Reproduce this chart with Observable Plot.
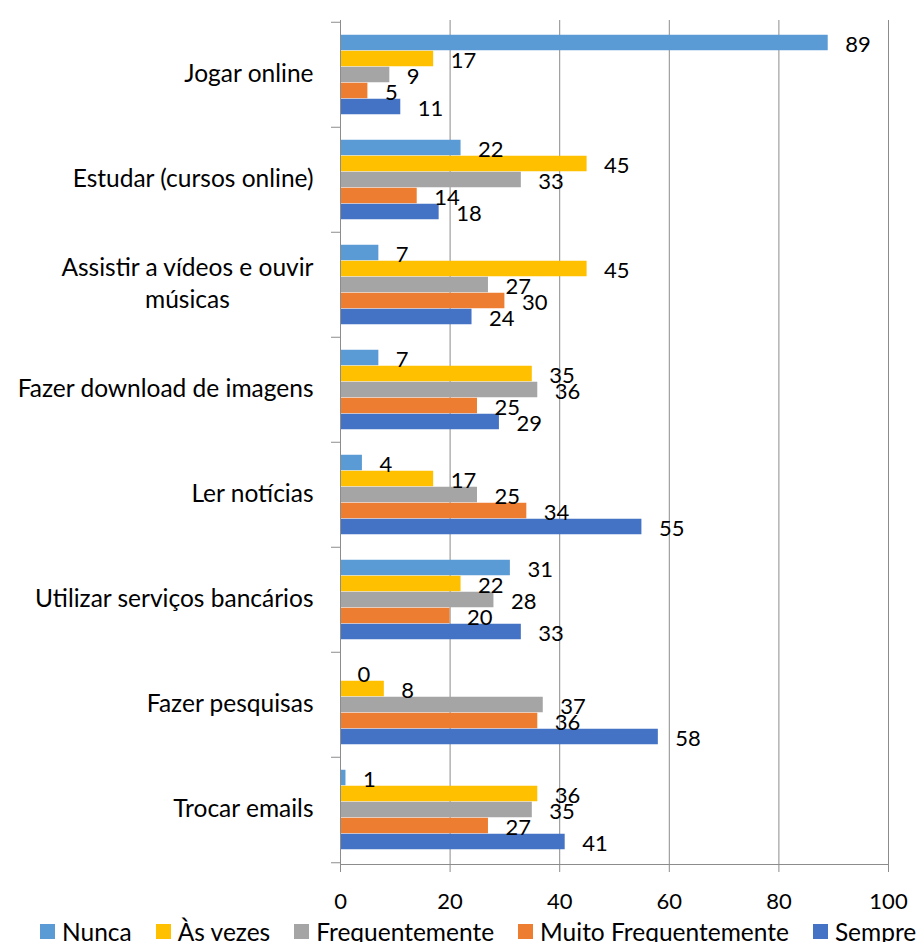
<!DOCTYPE html>
<html>
<head>
<meta charset="utf-8">
<script src="https://cdn.jsdelivr.net/npm/d3@7"></script>
<script src="https://cdn.jsdelivr.net/npm/@observablehq/plot@0.6"></script>
<style>
  html, body { margin: 0; padding: 0; background: #fff; overflow: hidden; }
  body { font-family: Lato, "Open Sans", sans-serif; width: 922px; }
  #legend { display: flex; align-items: center; height: 39px; padding-left: 40px; gap: 24px; white-space: nowrap; font-size: 24.5px; color: #000; }
  #legend .item { display: flex; align-items: center; }
  #legend .sw { width: 15px; height: 15px; margin-right: 7px; flex: none; }
</style>
</head>
<body>
<div id="chart"></div>
<div id="legend"></div>
<script>
const categories = [
  "Jogar online",
  "Estudar (cursos online)",
  "Assistir a vídeos e ouvir\nmúsicas",
  "Fazer download de imagens",
  "Ler notícias",
  "Utilizar serviços bancários",
  "Fazer pesquisas",
  "Trocar emails"
];
const series = ["Nunca", "Às vezes", "Frequentemente", "Muito Frequentemente", "Sempre"];
const nunca          = [89, 22,  7,  7,  4, 31,  0,  1];
const asVezes        = [17, 45, 45, 35, 17, 22,  8, 36];
const frequentemente = [ 9, 33, 27, 36, 25, 28, 37, 35];
const muitoFreq      = [ 5, 14, 30, 25, 34, 20, 36, 27];
const sempre         = [11, 18, 24, 29, 55, 33, 58, 41];
const colors = ["#5B9BD5", "#FFC000", "#A5A5A5", "#ED7D31", "#4472C4"];
const xTicks = [0, 20, 40, 60, 80, 100];

const seriesValues = [nunca, asVezes, frequentemente, muitoFreq, sempre];
const rows = series.flatMap((s, i) => categories.map((c, j) => ({series: s, category: c, value: seriesValues[i][j]})));

const W = 922, H = 912, mt = 20, mb = 48, ml = 340, mr = 34;
const band = (H - mt - mb) / categories.length;
const bh = 16;
const pad = (band - bh * series.length) / 2;
const gray = "#8c8c8c";
const fsNum = 22, fsLab = 24.5;

const marks = [
  Plot.gridX(xTicks, {stroke: gray, strokeOpacity: 1, strokeWidth: 1}),
];
series.forEach((s, i) => {
  const data = rows.filter(d => d.series === s);
  marks.push(Plot.barX(data, {
    x: "value", y: "category", fill: "series",
    insetTop: pad + i * bh, insetBottom: band - pad - (i + 1) * bh
  }));
});
series.forEach((s, i) => {
  const data = rows.filter(d => d.series === s);
  marks.push(Plot.text(data, {
    x: "value", y: "category", text: d => String(d.value),
    dx: 17, dy: -band / 2 + pad + (i + 0.5) * bh + 2,
    textAnchor: "start", fontSize: fsNum, fill: "#000"
  }));
});
marks.push(
  Plot.frame({anchor: "left", stroke: gray}),
  Plot.frame({anchor: "bottom", stroke: gray}),
  Plot.axisY({tickSize: 9, tickFormat: () => "", dy: -band / 2, stroke: gray, label: null}),
  Plot.axisY([categories[categories.length - 1]], {tickSize: 9, tickFormat: () => "", dy: band / 2, stroke: gray, label: null}),
  Plot.axisY({tickSize: 0, tickPadding: 27, fontSize: fsLab, lineHeight: 1.28, dy: -3, fill: "#000", label: null}),
  Plot.axisX({ticks: xTicks, tickSize: 8, tickPadding: 21, fontSize: fsNum, fill: "#000", stroke: gray, label: null})
);

const chart = Plot.plot({
  width: W, height: H,
  marginLeft: ml, marginRight: mr, marginTop: mt, marginBottom: mb,
  style: {fontFamily: "Lato, 'Open Sans', sans-serif", background: "#fff", overflow: "visible"},
  x: {domain: [0, 100]},
  y: {domain: categories, padding: 0},
  color: {domain: series, range: colors},
  marks
});
document.getElementById("chart").append(chart);

// center the lines of multi-line category labels within their block (right edge stays at the axis padding)
chart.querySelectorAll("text").forEach(t => {
  const spans = Array.from(t.querySelectorAll("tspan"));
  if (spans.length > 1) {
    const widths = spans.map(sp => sp.getComputedTextLength());
    const w = Math.max(...widths);
    spans.forEach((sp, k) => {
      sp.setAttribute("x", -(w - widths[k]) / 2);
    });
  }
});

const legend = document.getElementById("legend");
series.forEach((s, i) => {
  const item = document.createElement("div");
  item.className = "item";
  const sw = document.createElement("span");
  sw.className = "sw";
  sw.style.background = colors[i];
  const label = document.createElement("span");
  label.textContent = s;
  item.append(sw, label);
  legend.append(item);
});
</script>
</body>
</html>
